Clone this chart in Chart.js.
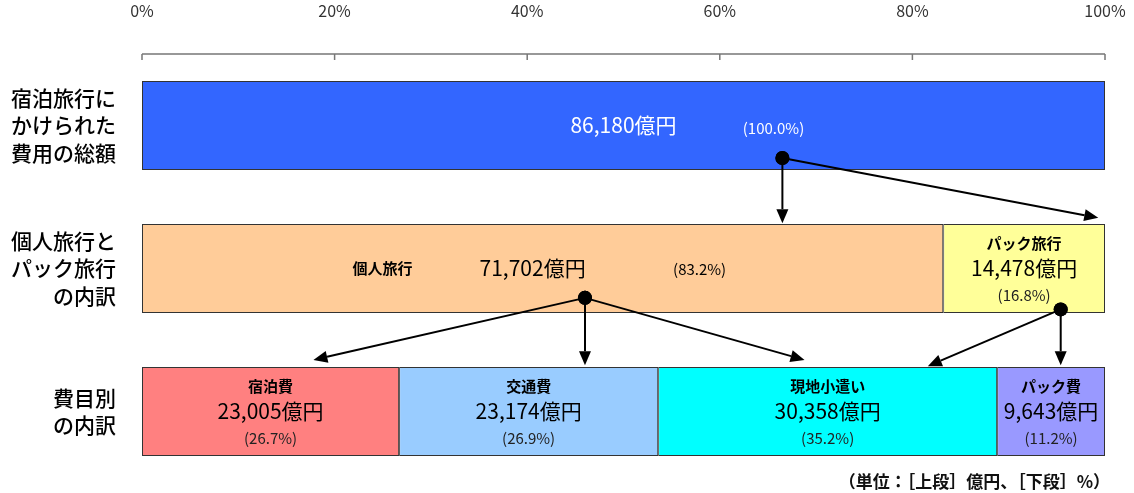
<!DOCTYPE html>
<html>
<head>
<meta charset="utf-8">
<script src="https://cdn.jsdelivr.net/npm/chart.js@4"></script>
<style>
  html, body { margin: 0; padding: 0; background: #fff; overflow: hidden; }
  canvas { display: block; }
</style>
</head>
<body>
<canvas id="chart" width="1134" height="493"></canvas>
<script>
// rows (y categories)
const rowLabels = [
  ['宿泊旅行に', 'かけられた', '費用の総額'],
  ['個人旅行と', 'パック旅行', 'の内訳'],
  ['費目別', 'の内訳']
];
// segments: name, row, amount (億円), share (%)
const segNames   = ['総額', '個人旅行', 'パック旅行', '宿泊費', '交通費', '現地小遣い', 'パック費'];
const segRows    = [0, 1, 1, 2, 2, 2, 2];
const segAmounts = ['86,180', '71,702', '14,478', '23,005', '23,174', '30,358', '9,643'];
const segShares  = [100.0, 83.2, 16.8, 26.7, 26.9, 35.2, 11.2];
const segColors  = ['#3366FF', '#FFCC99', '#FFFF99', '#FF8080', '#99CCFF', '#00FFFF', '#9999FF'];
const xTicks     = [0, 20, 40, 60, 80, 100];

// arrows: [fromRow, fromPct, fromFrac, toRow, toPct, toFrac]
const arrows = [
  [0, 66.5, 0.865, 1, 66.5, -0.01],
  [0, 66.5, 0.865, 1, 99.3, -0.07],
  [1, 46.0, 0.83, 2, 17.8, -0.08],
  [1, 46.0, 0.83, 2, 46.0, -0.02],
  [1, 46.0, 0.83, 2, 68.8, -0.08],
  [1, 95.4, 0.96, 2, 81.6, -0.01],
  [1, 95.4, 0.96, 2, 95.4, -0.02]
];

const FONT = '"Noto Sans CJK JP", "Noto Sans", sans-serif';

const datasets = segNames.map((n, i) => ({
  label: n,
  data: rowLabels.map((_, r) => r === segRows[i] ? segShares[i] : null),
  backgroundColor: segColors[i],
  borderColor: '#333',
  borderWidth: 1,
  borderSkipped: false,
  barPercentage: 0.622,
  categoryPercentage: 1
}));

function rowBox(chart, row) {
  // any dataset element on the row gives top/bottom
  for (let i = 0; i < segNames.length; i++) {
    if (segRows[i] === row) {
      const el = chart.getDatasetMeta(i).data[row];
      return { top: el.y - el.height / 2, h: el.height };
    }
  }
}

function noPad(s) {
  s.paddingLeft = s.paddingRight = s.paddingTop = s.paddingBottom = 0;
}

const axisLine = {
  id: 'axisLine',
  afterDraw(chart) {
    const ctx = chart.ctx, x = chart.scales.x, top = chart.chartArea.top;
    ctx.save();
    ctx.strokeStyle = '#777';
    ctx.lineWidth = 1.5;
    ctx.beginPath();
    ctx.moveTo(x.getPixelForValue(0), top);
    ctx.lineTo(x.getPixelForValue(100), top);
    xTicks.forEach(t => {
      const px = x.getPixelForValue(t);
      ctx.moveTo(px, top);
      ctx.lineTo(px, top + 6);
    });
    ctx.stroke();
    ctx.restore();
  }
};

const annotations = {
  id: 'annotations',
  afterDatasetsDraw(chart) {
    const ctx = chart.ctx, xs = chart.scales.x;
    ctx.save();
    ctx.textAlign = 'center';
    ctx.textBaseline = 'middle';
    segNames.forEach((n, i) => {
      const el = chart.getDatasetMeta(i).data[segRows[i]];
      const cx = (el.x + el.base) / 2, cy = el.y;
      const val = segAmounts[i] + '億円';
      const pct = '(' + segShares[i].toFixed(1) + '%)';
      if (i === 0) {
        ctx.fillStyle = '#fff';
        ctx.font = '21px ' + FONT;
        ctx.fillText(val, cx, cy);
        ctx.font = '15px ' + FONT;
        ctx.fillText(pct, cx + 150, cy + 3);
      } else if (i === 1) {
        ctx.fillStyle = '#000';
        ctx.font = 'bold 15px ' + FONT;
        ctx.fillText(n, cx - 160, cy);
        ctx.font = '21px ' + FONT;
        ctx.fillText(val, cx - 10, cy);
        ctx.font = '15px ' + FONT;
        ctx.fillText(pct, cx + 157, cy + 1);
      } else {
        ctx.fillStyle = '#000';
        ctx.font = 'bold 15px ' + FONT;
        ctx.fillText(n, cx, cy - 25);
        ctx.font = '21px ' + FONT;
        ctx.fillText(val, cx, cy);
        ctx.font = '15px ' + FONT;
        ctx.fillStyle = '#222';
        ctx.fillText(pct, cx, cy + 27);
      }
    });

    // arrows
    ctx.strokeStyle = '#000';
    ctx.fillStyle = '#000';
    ctx.lineWidth = 2;
    arrows.forEach(a => {
      const b0 = rowBox(chart, a[0]), b1 = rowBox(chart, a[3]);
      const x0 = xs.getPixelForValue(a[1]), y0 = b0.top + a[2] * b0.h;
      const x1 = xs.getPixelForValue(a[4]), y1 = b1.top + a[5] * b1.h;
      const ang = Math.atan2(y1 - y0, x1 - x0);
      const L = 14, W = 6;
      const bx = x1 - L * Math.cos(ang), by = y1 - L * Math.sin(ang);
      ctx.beginPath();
      ctx.moveTo(x0, y0);
      ctx.lineTo(bx, by);
      ctx.stroke();
      ctx.beginPath();
      ctx.moveTo(x1, y1);
      ctx.lineTo(bx + W * Math.sin(ang), by - W * Math.cos(ang));
      ctx.lineTo(bx - W * Math.sin(ang), by + W * Math.cos(ang));
      ctx.closePath();
      ctx.fill();
      ctx.beginPath();
      ctx.arc(x0, y0, 7, 0, Math.PI * 2);
      ctx.fill();
    });

    // unit note
    ctx.textAlign = 'right';
    ctx.font = 'bold 17px ' + FONT;
    ctx.fillStyle = '#111';
    ctx.fillText('（単位：［上段］億円、［下段］%）', 1110, 482);
    ctx.restore();
  }
};

new Chart(document.getElementById('chart'), {
  type: 'bar',
  data: { labels: rowLabels, datasets: datasets },
  options: {
    indexAxis: 'y',
    responsive: false,
    animation: false,
    devicePixelRatio: 1,
    layout: { padding: { top: 0, right: 29, bottom: 10, left: 0 } },
    plugins: { legend: { display: false }, tooltip: { enabled: false } },
    scales: {
      x: {
        position: 'top',
        stacked: true,
        min: 0,
        max: 100,
        afterFit: s => { s.height = 54; noPad(s); },
        grid: { display: false },
        border: { display: false },
        ticks: {
          stepSize: 20,
          padding: 25,
          color: '#333',
          font: { family: FONT, size: 16 },
          callback: v => v + '%'
        }
      },
      y: {
        stacked: true,
        afterFit: s => { s.width = 142; noPad(s); },
        grid: { display: false },
        border: { display: false },
        ticks: {
          padding: 18,
          color: '#000',
          font: { family: FONT, size: 21, weight: '500', lineHeight: 1.33 }
        }
      }
    }
  },
  plugins: [axisLine, annotations]
});
</script>
</body>
</html>
